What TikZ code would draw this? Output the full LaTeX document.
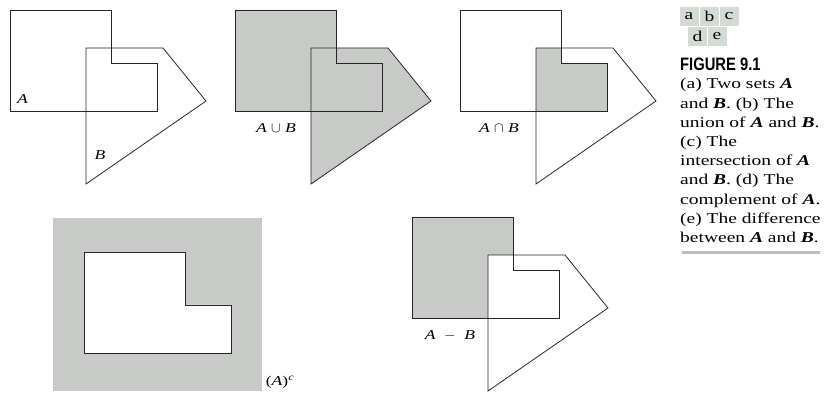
\documentclass[tikz,border=0pt]{standalone}
\usepackage{fontspec}
\setmainfont{Liberation Serif}[FakeStretch=1.3]
\newfontfamily\figfont{Liberation Sans}[FakeStretch=0.82]
\usepackage{xcolor}
\usepackage{tikz}

\definecolor{setgray}{RGB}{200,202,200}
\definecolor{boxgray}{RGB}{212,218,212}
\definecolor{rulegray}{RGB}{190,190,190}

\newcommand{\pathA}{(10,10) -- (111,10) -- (111,63) -- (157,63) -- (157,111) -- (10,111) -- cycle}
\newcommand{\pathB}{(86,48) -- (163,48) -- (206,101) -- (86,184) -- cycle}
\newcommand{\capset}[1]{\textbf{\textit{#1}}}

\begin{document}
\begin{tikzpicture}[x=1pt,y=-1pt,
	outline/.style={draw=black!85,line width=0.8pt},
	lbl/.style={inner sep=0,font=\fontsize{13.5}{16}\selectfont},
	captxt/.style={anchor=base west,inner sep=0,font=\fontsize{15}{18}\selectfont},
	letterbox/.style={fill=boxgray,minimum width=19pt,minimum height=18.5pt,inner sep=0,font=\fontsize{15}{18}\selectfont}]
	\useasboundingbox (0,0) rectangle (830,403);
	
	% (a) the two sets
	\draw[outline] \pathA;
	\draw[outline] \pathB;
	\node[lbl] (labA) at (22.5,99) {\textit{A}};
	\node[lbl] (labB) at (100,155) {\textit{B}};
	
	% (b) union
	\begin{scope}[shift={(225,0)}]
		\fill[setgray] \pathA;
		\fill[setgray] \pathB;
		\draw[outline] \pathA;
		\draw[outline] \pathB;
		\node[lbl] (union) at (51,128) {\textit{A} $\cup$ \textit{B}};
	\end{scope}
	
	% (c) intersection
	\begin{scope}[shift={(450,0)}]
		\fill[setgray] (86,48) -- (111,48) -- (111,63) -- (157,63) -- (157,111) -- (86,111) -- cycle;
		\draw[outline] \pathA;
		\draw[outline] \pathB;
		\node[lbl] (inter) at (49,128) {\textit{A} $\cap$ \textit{B}};
	\end{scope}
	
	% (d) complement
	\fill[setgray] (53,218) rectangle (262,391);
	\begin{scope}[shift={(74,242)}]
		\fill[white] \pathA;
		\draw[outline] \pathA;
	\end{scope}
	\node[lbl] (compl) at (280,382) {(\textit{A})\textsuperscript{\textit{c}}};
	
	% (e) difference
	\begin{scope}[shift={(402,207)}]
		\fill[setgray] (10,10) -- (111,10) -- (111,48) -- (86,48) -- (86,111) -- (10,111) -- cycle;
		\draw[outline] \pathA;
		\draw[outline] \pathB;
		\node[lbl] (diff) at (48,129) {\textit{A} \ $-$ \ \textit{B}};
	\end{scope}
	
	% panel key
	\node[letterbox] (ka) at (689,16.5) {a};
	\node[letterbox] (kb) at (709.5,16.5) {b};
	\node[letterbox] (kc) at (729,16.5) {c};
	\node[letterbox] (kd) at (697.5,36.5) {d};
	\node[letterbox] (ke) at (717,36.5) {e};
	
	% caption
	\node[anchor=base west,inner sep=0,font=\fontsize{18}{20}\figfont\bfseries] (fig) at (680,71) {FIGURE 9.1};
	\foreach \txt [count=\i from 0] in {{(a) Two sets \capset{A}},{and \capset{B}. (b) The},{union of \capset{A} and \capset{B}.},{(c) The},{intersection of \capset{A}},{and \capset{B}. (d) The},{complement of \capset{A}.},{(e) The difference},{between \capset{A} and \capset{B}.}}{
		\node[captxt] (cap\i) at (680,{89+19.2*\i}) {\txt};
	}
	\draw[rulegray,line width=3pt] (682,253) -- (820,253);
	
\end{tikzpicture}
\end{document}
